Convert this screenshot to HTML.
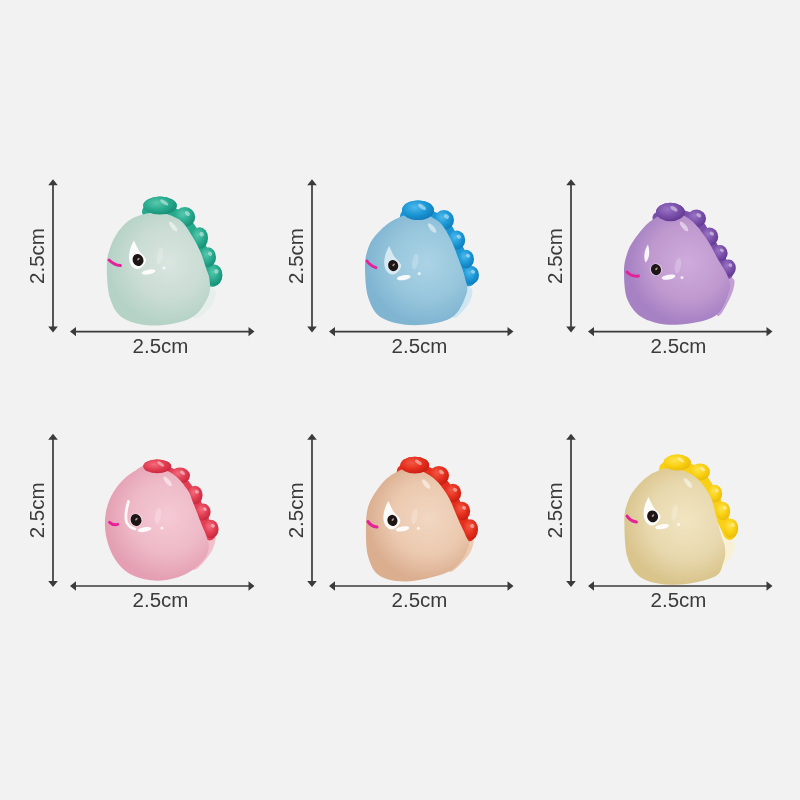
<!DOCTYPE html>
<html lang="en"><head><meta charset="utf-8"><title>2.5cm figurines</title>
<style>
html,body{margin:0;padding:0;background:#f2f2f2;}
body{width:800px;height:800px;overflow:hidden;}
svg{display:block}
svg text{font-family:"Liberation Sans",sans-serif;font-size:20.5px;fill:#3a3a3a;}
</style></head><body>
<svg width="800" height="800" viewBox="0 0 800 800">
<defs><filter id="soft" x="-10%" y="-10%" width="120%" height="120%"><feGaussianBlur stdDeviation="0.6"/></filter>
<filter id="softt" x="-10%" y="-10%" width="120%" height="120%"><feGaussianBlur stdDeviation="0.35"/></filter></defs>
<rect width="800" height="800" fill="#f2f2f2"/>
<g filter="url(#softt)">
<line x1="53.0" y1="182.3" x2="53.0" y2="329.5" stroke="#3a3a3a" stroke-width="1.7"/>
<path d="M53.0,179.3 l4.8,6 h-9.6z M53.0,332.5 l4.8,-6 h-9.6z" fill="#3a3a3a"/>
<line x1="73.0" y1="331.6" x2="251.5" y2="331.6" stroke="#3a3a3a" stroke-width="1.7"/>
<path d="M70.0,331.6 l6,-4.7 v9.4z M254.5,331.6 l-6,-4.7 v9.4z" fill="#3a3a3a"/>
<text x="160.5" y="353.0" text-anchor="middle">2.5cm</text>
<text transform="translate(44.0 256.0) rotate(-90)" text-anchor="middle">2.5cm</text>
<line x1="312.0" y1="182.3" x2="312.0" y2="329.5" stroke="#3a3a3a" stroke-width="1.7"/>
<path d="M312.0,179.3 l4.8,6 h-9.6z M312.0,332.5 l4.8,-6 h-9.6z" fill="#3a3a3a"/>
<line x1="332.0" y1="331.6" x2="510.5" y2="331.6" stroke="#3a3a3a" stroke-width="1.7"/>
<path d="M329.0,331.6 l6,-4.7 v9.4z M513.5,331.6 l-6,-4.7 v9.4z" fill="#3a3a3a"/>
<text x="419.5" y="353.0" text-anchor="middle">2.5cm</text>
<text transform="translate(303.0 256.0) rotate(-90)" text-anchor="middle">2.5cm</text>
<line x1="571.0" y1="182.3" x2="571.0" y2="329.5" stroke="#3a3a3a" stroke-width="1.7"/>
<path d="M571.0,179.3 l4.8,6 h-9.6z M571.0,332.5 l4.8,-6 h-9.6z" fill="#3a3a3a"/>
<line x1="591.0" y1="331.6" x2="769.5" y2="331.6" stroke="#3a3a3a" stroke-width="1.7"/>
<path d="M588.0,331.6 l6,-4.7 v9.4z M772.5,331.6 l-6,-4.7 v9.4z" fill="#3a3a3a"/>
<text x="678.5" y="353.0" text-anchor="middle">2.5cm</text>
<text transform="translate(562.0 256.0) rotate(-90)" text-anchor="middle">2.5cm</text>
<line x1="53.0" y1="436.7" x2="53.0" y2="583.9" stroke="#3a3a3a" stroke-width="1.7"/>
<path d="M53.0,433.7 l4.8,6 h-9.6z M53.0,586.9 l4.8,-6 h-9.6z" fill="#3a3a3a"/>
<line x1="73.0" y1="586.0" x2="251.5" y2="586.0" stroke="#3a3a3a" stroke-width="1.7"/>
<path d="M70.0,586.0 l6,-4.7 v9.4z M254.5,586.0 l-6,-4.7 v9.4z" fill="#3a3a3a"/>
<text x="160.5" y="607.4" text-anchor="middle">2.5cm</text>
<text transform="translate(44.0 510.4) rotate(-90)" text-anchor="middle">2.5cm</text>
<line x1="312.0" y1="436.7" x2="312.0" y2="583.9" stroke="#3a3a3a" stroke-width="1.7"/>
<path d="M312.0,433.7 l4.8,6 h-9.6z M312.0,586.9 l4.8,-6 h-9.6z" fill="#3a3a3a"/>
<line x1="332.0" y1="586.0" x2="510.5" y2="586.0" stroke="#3a3a3a" stroke-width="1.7"/>
<path d="M329.0,586.0 l6,-4.7 v9.4z M513.5,586.0 l-6,-4.7 v9.4z" fill="#3a3a3a"/>
<text x="419.5" y="607.4" text-anchor="middle">2.5cm</text>
<text transform="translate(303.0 510.4) rotate(-90)" text-anchor="middle">2.5cm</text>
<line x1="571.0" y1="436.7" x2="571.0" y2="583.9" stroke="#3a3a3a" stroke-width="1.7"/>
<path d="M571.0,433.7 l4.8,6 h-9.6z M571.0,586.9 l4.8,-6 h-9.6z" fill="#3a3a3a"/>
<line x1="591.0" y1="586.0" x2="769.5" y2="586.0" stroke="#3a3a3a" stroke-width="1.7"/>
<path d="M588.0,586.0 l6,-4.7 v9.4z M772.5,586.0 l-6,-4.7 v9.4z" fill="#3a3a3a"/>
<text x="678.5" y="607.4" text-anchor="middle">2.5cm</text>
<text transform="translate(562.0 510.4) rotate(-90)" text-anchor="middle">2.5cm</text>
</g>
<defs><radialGradient id="bgg" gradientUnits="userSpaceOnUse" cx="169.2" cy="263.0" r="61.1"><stop offset="0" stop-color="#dae5e0"/><stop offset="0.6" stop-color="#c9dcd4"/><stop offset="1" stop-color="#b5d2c6"/></radialGradient><radialGradient id="sgg" cx="0.4" cy="0.35" r="0.7"><stop offset="0" stop-color="#58c8ac"/><stop offset="0.55" stop-color="#27aa8e"/><stop offset="1" stop-color="#168a72"/></radialGradient></defs>
<g filter="url(#soft)">
<path d="M202.0,280.0 C205.7,278.0 210.1,285.6 212.4,288.0 C214.7,290.4 216.0,291.1 215.6,294.4 C215.2,297.7 213.4,304.1 210.0,308.0 C206.6,311.9 198.3,319.3 195.0,318.0 C191.7,316.7 188.8,306.3 190.0,300.0 C191.2,293.7 198.3,282.0 202.0,280.0Z" fill="#e6efec"/>
<path d="M148.0,211.6 C149.5,210.9 151.4,206.4 157.0,207.6 C162.6,208.8 175.2,213.6 181.8,219.0 C188.4,224.4 192.7,233.3 196.6,240.0 C200.5,246.7 202.5,253.0 205.0,259.2 C207.5,265.4 210.1,273.6 211.4,277.2 C212.7,280.8 212.5,280.2 212.7,280.8" fill="none" stroke="#27aa8e" stroke-width="12" stroke-linecap="round" stroke-linejoin="round"/>
<ellipse cx="214.4" cy="275.2" rx="8.0" ry="10.8" fill="url(#sgg)"/>
<ellipse cx="208.0" cy="257.2" rx="8.0" ry="10.0" fill="url(#sgg)"/>
<ellipse cx="199.6" cy="238.0" rx="8.4" ry="10.8" fill="url(#sgg)"/>
<ellipse cx="184.8" cy="217.0" rx="10.4" ry="10.0" fill="url(#sgg)"/>
<ellipse cx="160.0" cy="205.6" rx="16.8" ry="9.0" fill="url(#sgg)"/>
<path d="M157.0,212.4 C164.7,212.7 173.3,215.6 179.2,219.6 C185.1,223.6 188.7,230.8 192.2,236.2 C195.7,241.6 198.1,246.5 200.4,251.8 C202.7,257.1 204.5,263.3 206.0,268.0 C207.5,272.7 209.3,275.2 209.6,280.0 C209.9,284.8 211.1,290.7 208.0,297.0 C204.9,303.3 200.0,313.2 191.0,318.0 C182.0,322.8 165.3,325.6 154.0,325.6 C142.7,325.6 130.3,322.6 123.0,318.0 C115.7,313.4 112.7,306.3 110.0,298.0 C107.3,289.7 106.9,276.0 106.8,268.0 C106.7,260.0 107.5,256.0 109.4,250.0 C111.3,244.0 114.1,237.3 118.0,232.0 C121.9,226.7 126.5,221.3 133.0,218.0 C139.5,214.7 149.3,212.1 157.0,212.4Z" fill="url(#bgg)"/>
<ellipse cx="160.0" cy="205.6" rx="16.8" ry="9.0" fill="url(#sgg)"/>
<ellipse cx="164.2" cy="202.4" rx="4.7" ry="1.8" fill="#fff" opacity="0.45" transform="rotate(35 164.2 202.4)"/>
<ellipse cx="187.4" cy="213.5" rx="2.9" ry="2.0" fill="#fff" opacity="0.45" transform="rotate(35 187.4 213.5)"/>
<ellipse cx="201.7" cy="234.2" rx="2.4" ry="2.2" fill="#fff" opacity="0.45" transform="rotate(35 201.7 234.2)"/>
<ellipse cx="210.0" cy="253.7" rx="2.2" ry="2.0" fill="#fff" opacity="0.45" transform="rotate(35 210.0 253.7)"/>
<ellipse cx="216.4" cy="271.4" rx="2.2" ry="2.2" fill="#fff" opacity="0.45" transform="rotate(35 216.4 271.4)"/>
<path d="M134.0,240.5 C130.5,246.0 128.0,255.0 129.4,261.0 C130.6,265.8 134.0,269.0 137.5,269.0 C141.8,268.5 146.0,264.0 146.0,259.5 C144.0,255.0 140.0,253.0 138.5,250.0 C137.0,247.0 135.5,244.0 134.0,240.5Z" fill="#fff" opacity="0.93"/>
<ellipse cx="148.5" cy="272.0" rx="7" ry="2.4" fill="#fff" opacity="0.9" transform="rotate(-10 148.5 272.0)"/>
<circle cx="164.0" cy="268.0" r="1.6" fill="#fff" opacity="0.7"/>
<ellipse cx="160.0" cy="256.0" rx="3" ry="8" fill="#fff" opacity="0.22" transform="rotate(10 160.0 256.0)"/>
<ellipse cx="173.2" cy="226.6" rx="2.2" ry="6" fill="#fff" opacity="0.5" transform="rotate(-40 173.2 226.6)"/>
<ellipse cx="138.0" cy="260.0" rx="5.4" ry="6.0" fill="#1b1212" transform="rotate(-20 138.0 260.0)"/>
<ellipse cx="138.4" cy="259.2" rx="1.6" ry="0.9" fill="#d8b8b0" opacity="0.8" transform="rotate(-50 138.4 259.2)"/>
<path d="M109.0,260.0 Q114.0,265.0 120.4,265.6" fill="none" stroke="#e6209a" stroke-width="3" stroke-linecap="round"/>
</g>
<defs><radialGradient id="bgb" gradientUnits="userSpaceOnUse" cx="426.7" cy="263.1" r="60.6"><stop offset="0" stop-color="#abd3e6"/><stop offset="0.6" stop-color="#97c6dc"/><stop offset="1" stop-color="#80b5d2"/></radialGradient><radialGradient id="sgb" cx="0.4" cy="0.35" r="0.7"><stop offset="0" stop-color="#4db8ea"/><stop offset="0.55" stop-color="#1b97d6"/><stop offset="1" stop-color="#0f78b8"/></radialGradient></defs>
<g filter="url(#soft)">
<path d="M458.0,280.0 C461.2,277.7 466.6,283.8 469.0,286.0 C471.4,288.2 472.7,289.7 472.4,293.0 C472.1,296.3 470.1,301.8 467.0,306.0 C463.9,310.2 456.8,319.0 454.0,318.0 C451.2,317.0 449.3,306.3 450.0,300.0 C450.7,293.7 454.8,282.3 458.0,280.0Z" fill="#cfe6f3"/>
<path d="M406.0,216.2 C407.5,215.5 409.2,211.2 415.0,212.2 C420.8,213.2 434.6,217.0 441.0,222.0 C447.4,227.0 449.9,235.5 453.6,242.0 C457.3,248.5 460.6,255.2 463.0,261.0 C465.4,266.8 467.0,273.8 468.0,277.0 C469.0,280.2 468.8,279.7 469.0,280.2" fill="none" stroke="#1b97d6" stroke-width="12" stroke-linecap="round" stroke-linejoin="round"/>
<ellipse cx="471.0" cy="275.0" rx="8.0" ry="9.2" fill="url(#sgb)"/>
<ellipse cx="466.0" cy="259.0" rx="8.0" ry="9.2" fill="url(#sgb)"/>
<ellipse cx="456.6" cy="240.0" rx="8.6" ry="9.6" fill="url(#sgb)"/>
<ellipse cx="444.0" cy="220.0" rx="10.0" ry="10.0" fill="url(#sgb)"/>
<ellipse cx="418.0" cy="210.2" rx="16.0" ry="9.8" fill="url(#sgb)"/>
<path d="M416.0,213.0 C423.7,213.0 432.3,216.8 438.0,221.0 C443.7,225.2 446.5,231.5 450.0,238.0 C453.5,244.5 456.5,253.3 459.0,260.0 C461.5,266.7 463.8,272.3 465.0,278.0 C466.2,283.7 468.7,287.3 466.4,294.0 C464.1,300.7 459.7,312.8 451.0,318.0 C442.3,323.2 425.5,325.2 414.0,325.2 C402.5,325.2 389.6,322.5 382.0,318.0 C374.4,313.5 371.2,306.3 368.4,298.0 C365.6,289.7 365.1,276.0 365.0,268.0 C364.9,260.0 365.9,255.3 367.6,250.0 C369.3,244.7 370.9,240.8 375.0,236.0 C379.1,231.2 385.2,224.8 392.0,221.0 C398.8,217.2 408.3,213.0 416.0,213.0Z" fill="url(#bgb)"/>
<ellipse cx="418.0" cy="210.2" rx="16.0" ry="9.8" fill="url(#sgb)"/>
<ellipse cx="422.0" cy="206.8" rx="4.5" ry="2.0" fill="#fff" opacity="0.45" transform="rotate(35 422.0 206.8)"/>
<ellipse cx="446.5" cy="216.5" rx="2.8" ry="2.0" fill="#fff" opacity="0.45" transform="rotate(35 446.5 216.5)"/>
<ellipse cx="458.8" cy="236.6" rx="2.4" ry="1.9" fill="#fff" opacity="0.45" transform="rotate(35 458.8 236.6)"/>
<ellipse cx="468.0" cy="255.8" rx="2.2" ry="1.8" fill="#fff" opacity="0.45" transform="rotate(35 468.0 255.8)"/>
<ellipse cx="473.0" cy="271.8" rx="2.2" ry="1.8" fill="#fff" opacity="0.45" transform="rotate(35 473.0 271.8)"/>
<path d="M389.2,246.1 C385.7,251.6 383.2,260.6 384.6,266.6 C385.8,271.4 389.2,274.6 392.7,274.6 C397.0,274.1 401.2,269.6 401.2,265.1 C399.2,260.6 395.2,258.6 393.7,255.6 C392.2,252.6 390.7,249.6 389.2,246.1Z" fill="#fff" opacity="0.62"/>
<ellipse cx="403.7" cy="277.6" rx="7" ry="2.4" fill="#fff" opacity="0.9" transform="rotate(-10 403.7 277.6)"/>
<circle cx="419.2" cy="273.6" r="1.6" fill="#fff" opacity="0.7"/>
<ellipse cx="415.2" cy="261.6" rx="3" ry="8" fill="#fff" opacity="0.22" transform="rotate(10 415.2 261.6)"/>
<ellipse cx="432.0" cy="228.0" rx="2.2" ry="6" fill="#fff" opacity="0.5" transform="rotate(-40 432.0 228.0)"/>
<ellipse cx="393.2" cy="265.6" rx="5.0" ry="5.6" fill="#1b1212" transform="rotate(-20 393.2 265.6)"/>
<ellipse cx="393.6" cy="264.8" rx="1.6" ry="0.9" fill="#d8b8b0" opacity="0.8" transform="rotate(-50 393.6 264.8)"/>
<path d="M367.0,261.0 Q370.0,265.6 376.0,267.6" fill="none" stroke="#e6209a" stroke-width="3" stroke-linecap="round"/>
</g>
<defs><radialGradient id="bgp" gradientUnits="userSpaceOnUse" cx="687.6" cy="262.6" r="60.7"><stop offset="0" stop-color="#cfabdc"/><stop offset="0.6" stop-color="#c09acf"/><stop offset="1" stop-color="#a681c4"/></radialGradient><radialGradient id="sgp" cx="0.4" cy="0.35" r="0.7"><stop offset="0" stop-color="#9a74c4"/><stop offset="0.55" stop-color="#7a50aa"/><stop offset="1" stop-color="#5d3790"/></radialGradient></defs>
<g filter="url(#soft)">
<path d="M722.0,274.0 C725.1,271.7 730.3,276.3 732.4,278.0 C734.5,279.7 734.8,280.7 734.4,284.0 C734.0,287.3 732.7,292.7 730.0,298.0 C727.3,303.3 720.7,317.0 718.0,316.0 C715.3,315.0 713.3,299.0 714.0,292.0 C714.7,285.0 718.9,276.3 722.0,274.0Z" fill="#c3a0d4"/>
<path d="M658.4,218.0 C659.9,217.3 661.6,213.6 667.4,214.0 C673.2,214.4 686.9,216.3 693.4,220.4 C699.9,224.5 702.7,233.0 706.6,238.8 C710.5,244.6 713.8,250.0 717.0,255.2 C720.2,260.4 723.9,267.0 725.6,270.0 C727.3,273.0 727.0,272.5 727.3,273.0" fill="none" stroke="#7a50aa" stroke-width="12" stroke-linecap="round" stroke-linejoin="round"/>
<ellipse cx="728.6" cy="268.0" rx="7.2" ry="8.4" fill="url(#sgp)"/>
<ellipse cx="720.0" cy="253.2" rx="7.6" ry="8.2" fill="url(#sgp)"/>
<ellipse cx="709.6" cy="236.8" rx="8.6" ry="9.2" fill="url(#sgp)"/>
<ellipse cx="696.4" cy="218.4" rx="9.6" ry="8.8" fill="url(#sgp)"/>
<ellipse cx="670.4" cy="212.0" rx="14.4" ry="9.2" fill="url(#sgp)"/>
<path d="M670.0,212.4 C676.7,212.0 684.0,215.1 690.0,219.4 C696.0,223.7 701.2,231.1 706.0,238.0 C710.8,244.9 715.3,254.5 719.0,261.0 C722.7,267.5 726.3,272.0 728.0,277.0 C729.7,282.0 731.4,284.5 729.2,291.0 C727.0,297.5 723.9,310.4 715.0,316.0 C706.1,321.6 687.8,324.4 676.0,324.8 C664.2,325.2 652.1,322.5 644.0,318.4 C635.9,314.3 630.9,307.7 627.6,300.0 C624.3,292.3 624.1,279.7 624.0,272.0 C623.9,264.3 625.3,259.3 627.0,254.0 C628.7,248.7 630.2,245.4 634.0,240.0 C637.8,234.6 644.0,226.2 650.0,221.6 C656.0,217.0 663.3,212.8 670.0,212.4Z" fill="url(#bgp)"/>
<ellipse cx="670.4" cy="212.0" rx="14.4" ry="9.2" fill="url(#sgp)"/>
<ellipse cx="674.0" cy="208.8" rx="4.0" ry="1.8" fill="#fff" opacity="0.45" transform="rotate(35 674.0 208.8)"/>
<ellipse cx="698.8" cy="215.3" rx="2.7" ry="1.8" fill="#fff" opacity="0.45" transform="rotate(35 698.8 215.3)"/>
<ellipse cx="711.8" cy="233.6" rx="2.4" ry="1.8" fill="#fff" opacity="0.45" transform="rotate(35 711.8 233.6)"/>
<ellipse cx="721.9" cy="250.3" rx="2.1" ry="1.6" fill="#fff" opacity="0.45" transform="rotate(35 721.9 250.3)"/>
<ellipse cx="730.4" cy="265.1" rx="2.0" ry="1.7" fill="#fff" opacity="0.45" transform="rotate(35 730.4 265.1)"/>
<path d="M648.0,244.6 C644.5,249.6 643.0,257.6 645.5,262.6 C649.0,259.6 650.5,252.6 648.0,244.6Z" fill="#fff" opacity="0.9"/>
<circle cx="656.0" cy="269.6" r="6.3" fill="#fff" opacity="0.35"/>
<ellipse cx="668.5" cy="277.1" rx="7" ry="2.4" fill="#fff" opacity="0.9" transform="rotate(-10 668.5 277.1)"/>
<circle cx="682.0" cy="277.6" r="1.6" fill="#fff" opacity="0.7"/>
<ellipse cx="678.0" cy="265.6" rx="3" ry="8" fill="#fff" opacity="0.22" transform="rotate(10 678.0 265.6)"/>
<ellipse cx="684.0" cy="226.4" rx="2.2" ry="6" fill="#fff" opacity="0.5" transform="rotate(-40 684.0 226.4)"/>
<ellipse cx="656.0" cy="269.6" rx="5.0" ry="5.6" fill="#1b1212" transform="rotate(-20 656.0 269.6)"/>
<ellipse cx="656.4" cy="268.8" rx="1.6" ry="0.9" fill="#d8b8b0" opacity="0.8" transform="rotate(-50 656.4 268.8)"/>
<path d="M627.0,272.0 Q632.0,277.0 638.4,276.0" fill="none" stroke="#e6209a" stroke-width="3" stroke-linecap="round"/>
</g>
<defs><radialGradient id="bgk" gradientUnits="userSpaceOnUse" cx="167.9" cy="516.5" r="62.7"><stop offset="0" stop-color="#f5cad5"/><stop offset="0.6" stop-color="#eeb9c7"/><stop offset="1" stop-color="#e49fb3"/></radialGradient><radialGradient id="sgk" cx="0.4" cy="0.35" r="0.7"><stop offset="0" stop-color="#f26c7c"/><stop offset="0.55" stop-color="#e23c52"/><stop offset="1" stop-color="#c4263c"/></radialGradient></defs>
<g filter="url(#soft)">
<path d="M202.0,528.0 C205.2,525.5 210.7,531.2 213.0,533.0 C215.3,534.8 216.1,535.5 215.6,539.0 C215.1,542.5 213.6,548.8 210.0,554.0 C206.4,559.2 196.7,571.0 194.0,570.0 C191.3,569.0 192.7,555.0 194.0,548.0 C195.3,541.0 198.8,530.5 202.0,528.0Z" fill="#f0c0cc"/>
<path d="M145.2,472.4 C146.7,471.7 148.9,467.5 154.2,468.4 C159.5,469.3 170.7,472.8 177.0,477.6 C183.3,482.4 188.2,490.9 192.0,497.0 C195.8,503.1 197.3,508.3 200.0,514.0 C202.7,519.7 206.4,527.6 208.0,531.0 C209.6,534.4 209.3,533.8 209.6,534.4" fill="none" stroke="#e23c52" stroke-width="12" stroke-linecap="round" stroke-linejoin="round"/>
<ellipse cx="211.0" cy="529.0" rx="7.6" ry="9.2" fill="url(#sgk)"/>
<ellipse cx="203.0" cy="512.0" rx="7.6" ry="8.4" fill="url(#sgk)"/>
<ellipse cx="195.0" cy="495.0" rx="7.6" ry="9.2" fill="url(#sgk)"/>
<ellipse cx="180.0" cy="475.6" rx="10.0" ry="8.0" fill="url(#sgk)"/>
<ellipse cx="157.2" cy="466.4" rx="14.0" ry="6.8" fill="url(#sgk)"/>
<path d="M150.0,464.4 C156.8,464.8 167.3,470.1 173.6,474.4 C179.9,478.7 184.5,485.6 187.6,490.0 C190.7,494.4 190.8,497.2 192.4,501.0 C194.0,504.8 195.6,508.9 197.2,513.0 C198.8,517.1 200.5,521.8 202.0,525.6 C203.5,529.4 205.3,532.4 206.4,536.0 C207.5,539.6 209.0,543.3 208.8,547.0 C208.6,550.7 207.5,554.3 205.0,558.0 C202.5,561.7 198.5,565.8 194.0,569.0 C189.5,572.2 184.7,575.3 178.0,577.2 C171.3,579.1 162.0,581.1 154.0,580.6 C146.0,580.1 136.5,577.6 130.0,574.0 C123.5,570.4 118.8,564.9 115.0,559.2 C111.2,553.5 108.7,546.5 107.0,540.0 C105.3,533.5 104.6,526.6 105.0,520.0 C105.4,513.4 106.8,506.6 109.2,500.6 C111.6,494.6 115.4,488.6 119.4,483.8 C123.4,479.0 127.9,475.2 133.0,472.0 C138.1,468.8 143.2,464.0 150.0,464.4Z" fill="url(#bgk)"/>
<ellipse cx="157.2" cy="466.4" rx="14.0" ry="6.8" fill="url(#sgk)"/>
<ellipse cx="160.7" cy="464.0" rx="3.9" ry="1.4" fill="#fff" opacity="0.45" transform="rotate(35 160.7 464.0)"/>
<ellipse cx="182.5" cy="472.8" rx="2.8" ry="1.6" fill="#fff" opacity="0.45" transform="rotate(35 182.5 472.8)"/>
<ellipse cx="196.9" cy="491.8" rx="2.1" ry="1.8" fill="#fff" opacity="0.45" transform="rotate(35 196.9 491.8)"/>
<ellipse cx="204.9" cy="509.1" rx="2.1" ry="1.7" fill="#fff" opacity="0.45" transform="rotate(35 204.9 509.1)"/>
<ellipse cx="212.9" cy="525.8" rx="2.1" ry="1.8" fill="#fff" opacity="0.45" transform="rotate(35 212.9 525.8)"/>
<path d="M128.5,501.5 Q124.5,515.0 126.5,522.0 Q129.0,527.5 135.0,529.0" fill="none" stroke="#fff" stroke-width="2.8" stroke-linecap="round" opacity="0.9"/>
<circle cx="136.0" cy="520.0" r="6.6" fill="#fff" opacity="0.45"/>
<ellipse cx="144.5" cy="529.5" rx="7" ry="2.4" fill="#fff" opacity="0.9" transform="rotate(-10 144.5 529.5)"/>
<circle cx="162.0" cy="528.0" r="1.6" fill="#fff" opacity="0.7"/>
<ellipse cx="158.0" cy="516.0" rx="3" ry="8" fill="#fff" opacity="0.22" transform="rotate(10 158.0 516.0)"/>
<ellipse cx="167.6" cy="481.4" rx="2.2" ry="6" fill="#fff" opacity="0.5" transform="rotate(-40 167.6 481.4)"/>
<ellipse cx="136.0" cy="520.0" rx="5.4" ry="6.0" fill="#1b1212" transform="rotate(-20 136.0 520.0)"/>
<ellipse cx="136.4" cy="519.2" rx="1.6" ry="0.9" fill="#d8b8b0" opacity="0.8" transform="rotate(-50 136.4 519.2)"/>
<path d="M109.6,522.4 Q113.0,525.6 117.6,524.4" fill="none" stroke="#e6209a" stroke-width="3" stroke-linecap="round"/>
</g>
<defs><radialGradient id="bgo" gradientUnits="userSpaceOnUse" cx="428.2" cy="518.6" r="61.1"><stop offset="0" stop-color="#f2d7c2"/><stop offset="0.6" stop-color="#ebc9af"/><stop offset="1" stop-color="#dbae90"/></radialGradient><radialGradient id="sgo" cx="0.4" cy="0.35" r="0.7"><stop offset="0" stop-color="#f25843"/><stop offset="0.55" stop-color="#e52f1e"/><stop offset="1" stop-color="#c41d11"/></radialGradient></defs>
<g filter="url(#soft)">
<path d="M460.0,530.0 C463.2,528.0 468.7,534.0 471.0,536.0 C473.3,538.0 474.1,538.7 473.6,542.0 C473.1,545.3 471.9,551.0 468.0,556.0 C464.1,561.0 452.7,573.3 450.0,572.0 C447.3,570.7 450.3,555.0 452.0,548.0 C453.7,541.0 456.8,532.0 460.0,530.0Z" fill="#eecbb3"/>
<path d="M402.8,471.2 C404.3,470.5 406.3,466.1 411.8,467.2 C417.3,468.3 429.6,473.0 436.0,477.6 C442.4,482.2 446.2,489.1 450.0,495.0 C453.8,500.9 456.1,506.9 459.0,513.0 C461.9,519.1 465.7,527.9 467.4,531.6 C469.1,535.3 468.8,534.7 469.1,535.3" fill="none" stroke="#e52f1e" stroke-width="12" stroke-linecap="round" stroke-linejoin="round"/>
<ellipse cx="470.4" cy="529.6" rx="7.6" ry="10.4" fill="url(#sgo)"/>
<ellipse cx="462.0" cy="511.0" rx="8.2" ry="9.2" fill="url(#sgo)"/>
<ellipse cx="453.0" cy="493.0" rx="8.2" ry="9.2" fill="url(#sgo)"/>
<ellipse cx="439.0" cy="475.6" rx="10.0" ry="9.6" fill="url(#sgo)"/>
<ellipse cx="414.8" cy="465.2" rx="14.4" ry="8.4" fill="url(#sgo)"/>
<path d="M410.0,468.0 C417.0,468.2 425.8,472.6 432.0,477.0 C438.2,481.4 443.1,488.4 447.0,494.4 C450.9,500.4 453.3,507.8 455.6,513.0 C457.9,518.2 459.3,521.8 461.0,525.6 C462.7,529.4 464.4,532.0 465.6,535.6 C466.8,539.2 470.7,541.3 468.4,547.0 C466.1,552.7 461.7,564.3 452.0,570.0 C442.3,575.7 422.0,580.2 410.0,581.2 C398.0,582.2 387.0,580.2 380.0,576.0 C373.0,571.8 370.3,564.3 368.0,556.0 C365.7,547.7 365.9,534.3 366.0,526.0 C366.1,517.7 366.6,512.0 368.4,506.0 C370.2,500.0 373.4,495.0 377.0,490.0 C380.6,485.0 384.5,479.7 390.0,476.0 C395.5,472.3 403.0,467.8 410.0,468.0Z" fill="url(#bgo)"/>
<ellipse cx="414.8" cy="465.2" rx="14.4" ry="8.4" fill="url(#sgo)"/>
<ellipse cx="418.4" cy="462.3" rx="4.0" ry="1.7" fill="#fff" opacity="0.45" transform="rotate(35 418.4 462.3)"/>
<ellipse cx="441.5" cy="472.2" rx="2.8" ry="1.9" fill="#fff" opacity="0.45" transform="rotate(35 441.5 472.2)"/>
<ellipse cx="455.1" cy="489.8" rx="2.3" ry="1.8" fill="#fff" opacity="0.45" transform="rotate(35 455.1 489.8)"/>
<ellipse cx="464.1" cy="507.8" rx="2.3" ry="1.8" fill="#fff" opacity="0.45" transform="rotate(35 464.1 507.8)"/>
<ellipse cx="472.3" cy="526.0" rx="2.1" ry="2.1" fill="#fff" opacity="0.45" transform="rotate(35 472.3 526.0)"/>
<path d="M388.4,500.9 C384.9,506.4 382.4,515.4 383.8,521.4 C385.0,526.2 388.4,529.4 391.9,529.4 C396.2,528.9 400.4,524.4 400.4,519.9 C398.4,515.4 394.4,513.4 392.9,510.4 C391.4,507.4 389.9,504.4 388.4,500.9Z" fill="#fff" opacity="0.93"/>
<ellipse cx="402.4" cy="528.9" rx="7" ry="2.4" fill="#fff" opacity="0.9" transform="rotate(-10 402.4 528.9)"/>
<circle cx="418.4" cy="528.4" r="1.6" fill="#fff" opacity="0.7"/>
<ellipse cx="414.4" cy="516.4" rx="3" ry="8" fill="#fff" opacity="0.22" transform="rotate(10 414.4 516.4)"/>
<ellipse cx="426.0" cy="484.0" rx="2.2" ry="6" fill="#fff" opacity="0.5" transform="rotate(-40 426.0 484.0)"/>
<ellipse cx="392.4" cy="520.4" rx="5.0" ry="5.6" fill="#1b1212" transform="rotate(-20 392.4 520.4)"/>
<ellipse cx="392.8" cy="519.6" rx="1.6" ry="0.9" fill="#d8b8b0" opacity="0.8" transform="rotate(-50 392.8 519.6)"/>
<path d="M368.0,521.6 Q371.0,526.4 377.0,527.0" fill="none" stroke="#e6209a" stroke-width="3" stroke-linecap="round"/>
</g>
<defs><radialGradient id="bgy" gradientUnits="userSpaceOnUse" cx="685.8" cy="520.4" r="63.1"><stop offset="0" stop-color="#f1e5c1"/><stop offset="0.6" stop-color="#e8d8ae"/><stop offset="1" stop-color="#d9c48c"/></radialGradient><radialGradient id="sgy" cx="0.4" cy="0.35" r="0.7"><stop offset="0" stop-color="#ffe24c"/><stop offset="0.55" stop-color="#f9d012"/><stop offset="1" stop-color="#e8b90a"/></radialGradient></defs>
<g filter="url(#soft)">
<path d="M720.0,534.0 C723.3,532.0 729.5,537.8 732.0,540.0 C734.5,542.2 735.3,543.7 734.8,547.0 C734.3,550.3 732.5,555.2 729.0,560.0 C725.5,564.8 716.8,577.3 714.0,576.0 C711.2,574.7 711.0,559.0 712.0,552.0 C713.0,545.0 716.7,536.0 720.0,534.0Z" fill="#f8f1d6"/>
<path d="M665.2,468.6 C666.7,467.9 668.9,463.7 674.2,464.6 C679.5,465.5 690.7,468.8 697.0,474.0 C703.3,479.2 708.2,489.1 712.0,495.6 C715.8,502.1 717.3,507.2 720.0,513.0 C722.7,518.8 726.4,526.9 728.0,530.4 C729.6,533.9 729.3,533.3 729.6,533.9" fill="none" stroke="#f9d012" stroke-width="12" stroke-linecap="round" stroke-linejoin="round"/>
<ellipse cx="731.0" cy="528.4" rx="7.2" ry="9.6" fill="url(#sgy)"/>
<ellipse cx="723.0" cy="511.0" rx="7.2" ry="9.2" fill="url(#sgy)"/>
<ellipse cx="715.0" cy="493.6" rx="7.2" ry="8.8" fill="url(#sgy)"/>
<ellipse cx="700.0" cy="472.0" rx="10.0" ry="8.4" fill="url(#sgy)"/>
<ellipse cx="677.2" cy="462.6" rx="13.6" ry="8.0" fill="url(#sgy)"/>
<path d="M672.0,468.0 C679.0,468.4 687.8,471.6 694.0,476.0 C700.2,480.4 705.8,488.2 709.4,494.4 C713.0,500.6 713.9,507.8 715.4,513.0 C716.9,518.2 717.6,521.8 718.6,525.6 C719.6,529.4 720.3,532.1 721.4,536.0 C722.5,539.9 724.9,544.5 725.2,549.0 C725.5,553.5 725.1,558.3 723.2,563.0 C721.3,567.7 721.9,573.4 714.0,577.0 C706.1,580.6 687.8,584.5 676.0,584.8 C664.2,585.1 651.1,583.3 643.0,578.8 C634.9,574.3 630.7,567.5 627.6,558.0 C624.5,548.5 624.5,531.0 624.4,522.0 C624.3,513.0 625.2,509.5 627.0,504.0 C628.8,498.5 630.8,494.1 635.0,489.0 C639.2,483.9 645.8,477.1 652.0,473.6 C658.2,470.1 665.0,467.6 672.0,468.0Z" fill="url(#bgy)"/>
<ellipse cx="677.2" cy="462.6" rx="13.6" ry="8.0" fill="url(#sgy)"/>
<ellipse cx="680.6" cy="459.8" rx="3.8" ry="1.6" fill="#fff" opacity="0.45" transform="rotate(35 680.6 459.8)"/>
<ellipse cx="702.5" cy="469.1" rx="2.8" ry="1.7" fill="#fff" opacity="0.45" transform="rotate(35 702.5 469.1)"/>
<ellipse cx="716.8" cy="490.5" rx="2.0" ry="1.8" fill="#fff" opacity="0.45" transform="rotate(35 716.8 490.5)"/>
<ellipse cx="724.8" cy="507.8" rx="2.0" ry="1.8" fill="#fff" opacity="0.45" transform="rotate(35 724.8 507.8)"/>
<ellipse cx="732.8" cy="525.0" rx="2.0" ry="1.9" fill="#fff" opacity="0.45" transform="rotate(35 732.8 525.0)"/>
<path d="M648.6,496.9 C645.1,502.4 642.6,511.4 644.0,517.4 C645.2,522.2 648.6,525.4 652.1,525.4 C656.4,524.9 660.6,520.4 660.6,515.9 C658.6,511.4 654.6,509.4 653.1,506.4 C651.6,503.4 650.1,500.4 648.6,496.9Z" fill="#fff" opacity="0.93"/>
<ellipse cx="662.1" cy="526.6" rx="7" ry="2.4" fill="#fff" opacity="0.9" transform="rotate(-10 662.1 526.6)"/>
<circle cx="678.6" cy="524.4" r="1.6" fill="#fff" opacity="0.7"/>
<ellipse cx="674.6" cy="512.4" rx="3" ry="8" fill="#fff" opacity="0.22" transform="rotate(10 674.6 512.4)"/>
<ellipse cx="688.0" cy="483.0" rx="2.2" ry="6" fill="#fff" opacity="0.5" transform="rotate(-40 688.0 483.0)"/>
<ellipse cx="652.6" cy="516.4" rx="5.4" ry="6.0" fill="#1b1212" transform="rotate(-20 652.6 516.4)"/>
<ellipse cx="653.0" cy="515.6" rx="1.6" ry="0.9" fill="#d8b8b0" opacity="0.8" transform="rotate(-50 653.0 515.6)"/>
<path d="M627.0,516.0 Q630.0,521.0 636.4,522.0" fill="none" stroke="#e6209a" stroke-width="3" stroke-linecap="round"/>
</g>
</svg></body></html>
